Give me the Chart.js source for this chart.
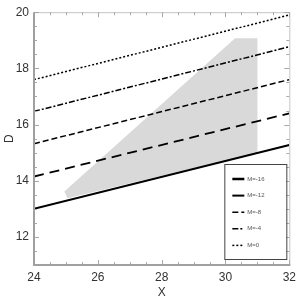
<!DOCTYPE html>
<html>
<head>
<meta charset="utf-8">
<script src="https://cdn.jsdelivr.net/npm/chart.js@4/dist/chart.umd.min.js"></script>
<style>
html,body{margin:0;padding:0;background:#fff;}
#c{display:block;}
</style>
</head>
<body>
<canvas id="c" width="301" height="301"></canvas>
<script>
// ---- data ----
const xTicks = [24, 26, 28, 30, 32];
const yTicks = [12, 14, 16, 18, 20];
const xRange = [24, 32];
const yRange = [11, 20];
const seriesLabels = ['M=-16', 'M=-12', 'M=-8', 'M=-4', 'M=0'];
const lineX = [24, 32];
const m16 = [13.00, 15.27];
const m12 = [14.15, 16.40];
const m8 = [15.32, 17.60];
const m4 = [16.47, 18.77];
const m0 = [17.60, 19.90];
const regionX = [24.95, 25.05, 31.0, 31.0, 30.3];
const regionD = [13.62, 13.38, 14.99, 19.07, 19.07];

// ---- styles ----
const lineStyles = [
  {w: 2.0, dash: []},
  {w: 1.8, dash: [10, 6]},
  {w: 1.5, dash: [6, 3]},
  {w: 1.5, dash: [6, 2, 2, 2]},
  {w: 1.5, dash: [2, 2]}
];
const seriesValues = [m16, m12, m8, m4, m0];

const pts = (xs, ys) => xs.map((x, i) => ({x: x, y: ys[i]}));

const datasets = [{
  label: 'region',
  data: pts(regionX, regionD),
  showLine: true,
  fill: 'shape',
  backgroundColor: '#d9d9d9',
  borderWidth: 0,
  borderColor: 'rgba(0,0,0,0)',
  pointRadius: 0,
  order: 10
}];
seriesValues.forEach((v, i) => {
  datasets.push({
    label: seriesLabels[i],
    data: pts(lineX, v),
    showLine: true,
    fill: false,
    borderColor: '#000',
    borderWidth: lineStyles[i].w,
    borderDash: lineStyles[i].dash,
    pointRadius: 0,
    order: 1
  });
});

const framePlugin = {
  id: 'frame',
  afterDraw(chart) {
    const ctx = chart.ctx;
    const a = chart.chartArea;
    const xs = chart.scales.x, ys = chart.scales.y;
    ctx.save();
    // thin top/right
    ctx.strokeStyle = '#c4c4c4';
    ctx.lineWidth = 1;
    ctx.beginPath();
    ctx.moveTo(a.left, a.top + 0.5); ctx.lineTo(a.right + 0.5, a.top + 0.5);
    ctx.lineTo(a.right + 0.5, a.bottom);
    ctx.stroke();
    // ticks
    ctx.strokeStyle = '#a8a8a8';
    ctx.lineWidth = 1;
    ctx.beginPath();
    for (let v = xRange[0]; v <= xRange[1] + 1e-9; v += 0.5) {
      const px = Math.round(xs.getPixelForValue(v)) + 0.5;
      const major = xTicks.includes(v);
      const L = major ? 5 : 3;
      ctx.moveTo(px, a.bottom); ctx.lineTo(px, a.bottom - L);
      ctx.moveTo(px, a.top); ctx.lineTo(px, a.top + L);
    }
    for (let v = yRange[0]; v <= yRange[1] + 1e-9; v += 0.5) {
      const py = Math.round(ys.getPixelForValue(v)) + 0.5;
      const major = yTicks.includes(v);
      const L = major ? 5 : 3;
      ctx.moveTo(a.left, py); ctx.lineTo(a.left + L, py);
      ctx.moveTo(a.right, py); ctx.lineTo(a.right - L, py);
    }
    ctx.stroke();
    // thick left/bottom
    ctx.strokeStyle = '#a0a0a0';
    ctx.lineWidth = 2;
    ctx.beginPath();
    ctx.moveTo(a.left, a.top); ctx.lineTo(a.left, a.bottom);
    ctx.lineTo(a.right + 1, a.bottom);
    ctx.stroke();

    // legend
    const bx = a.right - 65, by = a.bottom - 101, bw = 62, bh = 95;
    ctx.fillStyle = '#fff';
    ctx.fillRect(bx, by, bw, bh);
    ctx.strokeStyle = '#444';
    ctx.lineWidth = 1;
    ctx.setLineDash([]);
    ctx.strokeRect(bx + 0.5, by + 0.5, bw, bh);
    ctx.font = '6px "Liberation Sans", Arial, sans-serif';
    ctx.textBaseline = 'middle';
    ctx.textAlign = 'left';
    const items = chart.data.datasets.slice(1);
    items.forEach((ds, i) => {
      const y = by + 15 + i * 16.6;
      ctx.strokeStyle = '#000';
      ctx.lineWidth = i === 0 ? 2.5 : (i === 1 ? 2 : 1.5);
      ctx.setLineDash(i === 1 ? [] : ds.borderDash);
      ctx.beginPath();
      ctx.moveTo(bx + 8, y); ctx.lineTo(bx + 20, y);
      ctx.stroke();
      ctx.setLineDash([]);
      ctx.fillStyle = '#555';
      ctx.fillText(ds.label, bx + 23, y);
    });
    ctx.restore();
  }
};

const fontFam = '"Liberation Sans", Arial, sans-serif';
new Chart(document.getElementById('c'), {
  type: 'scatter',
  data: {datasets: datasets},
  options: {
    responsive: false,
    animation: false,
    layout: {padding: {top: 8, right: 9, left: 0, bottom: 0}},
    plugins: {legend: {display: false}, tooltip: {enabled: false}},
    scales: {
      x: {
        type: 'linear',
        min: xRange[0], max: xRange[1],
        afterBuildTicks: s => { s.ticks = xTicks.map(v => ({value: v})); },
        afterFit: s => { s.height = 36; },
        grid: {display: false, drawTicks: false, tickLength: 0},
        border: {display: false},
        ticks: {color: '#333', font: {size: 12, family: fontFam}, padding: 5, maxRotation: 0},
        title: {display: true, text: 'X', color: '#333', font: {size: 12, family: fontFam}, padding: {top: 0, bottom: 1}}
      },
      y: {
        type: 'linear',
        min: yRange[0], max: yRange[1],
        afterBuildTicks: s => { s.ticks = yTicks.map(v => ({value: v})); },
        afterFit: s => { s.width = 34; },
        grid: {display: false, drawTicks: false, tickLength: 0},
        border: {display: false},
        ticks: {color: '#333', font: {size: 12, family: fontFam}, padding: 5},
        title: {display: true, text: 'D', color: '#333', font: {size: 12, family: fontFam}, padding: {top: 2, bottom: 0}}
      }
    }
  },
  plugins: [framePlugin]
});
</script>
</body>
</html>
